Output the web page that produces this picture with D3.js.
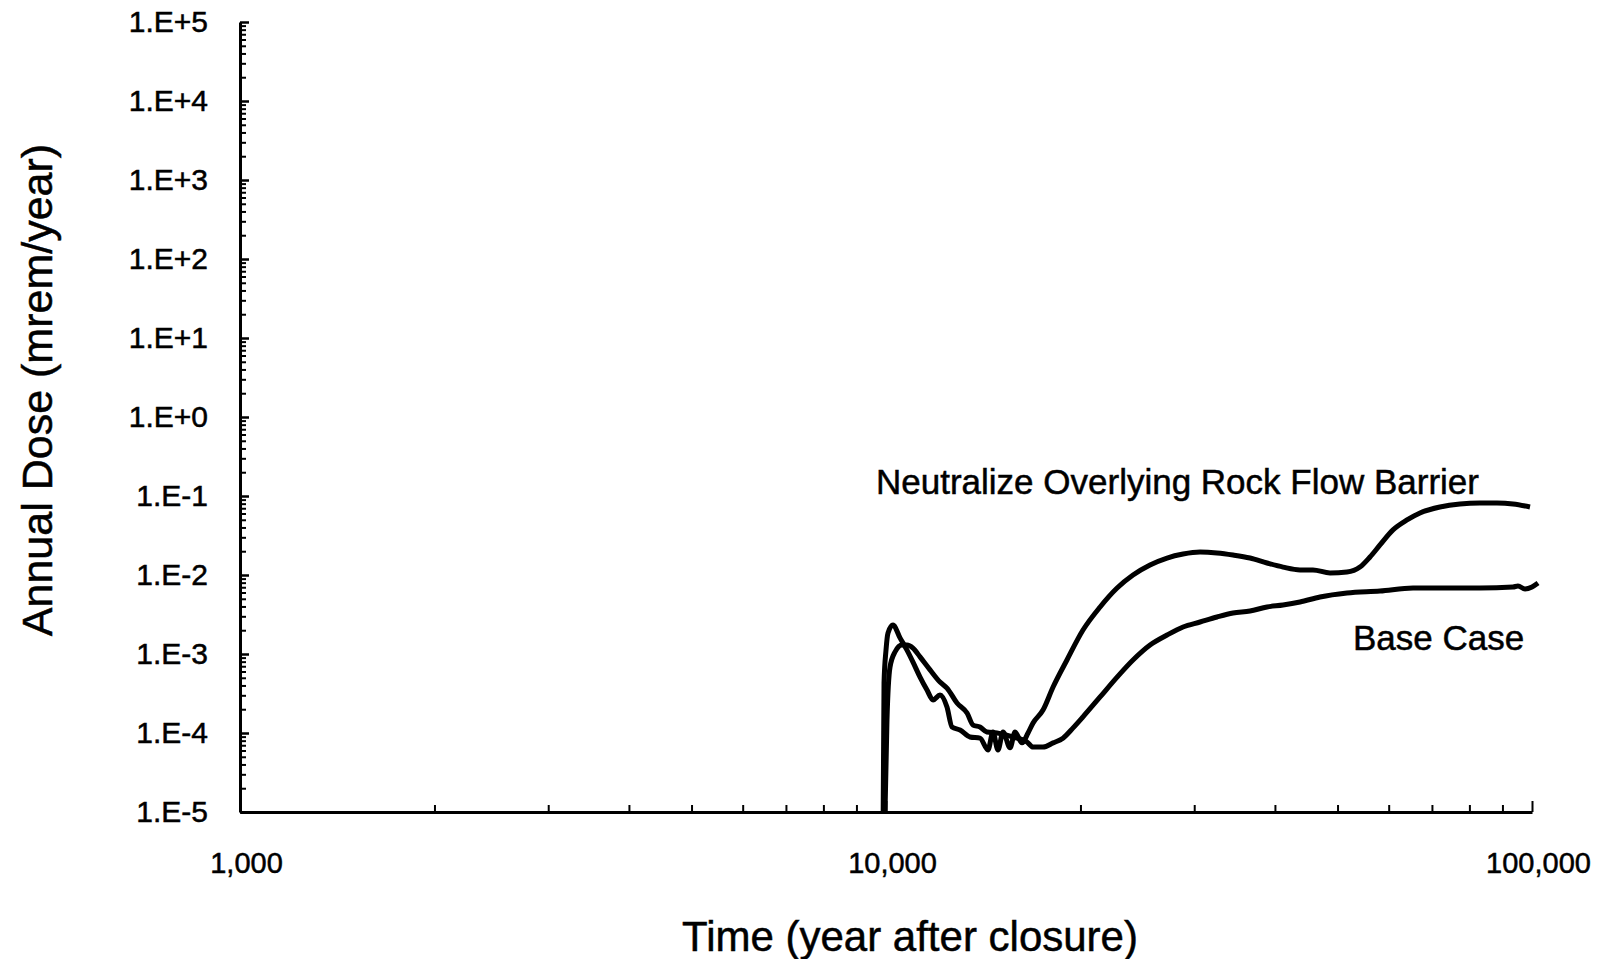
<!DOCTYPE html>
<html>
<head>
<meta charset="utf-8">
<script src="https://cdn.jsdelivr.net/npm/d3@7"></script>
<style>
    body { margin: 0; background: #fff; }
    svg { display: block; }
    text { font-family: "Liberation Sans", Arial, Helvetica, sans-serif; fill: #000; stroke: #000; stroke-width: 0.5px; }
    .axis path, .axis line { stroke: #000; }
</style>
</head>
<body>
<svg width="1598" height="959"></svg>
<script>
// waarden
var neutralizeTime = [9900, 9930, 10000, 10072, 10252, 10512, 10777, 11010, 11290, 11574, 11825, 12122, 12428, 12652, 13020, 13490, 13980, 14385, 14640, 14905, 15175, 15560, 15840, 16240, 16590, 16890, 17500, 18140, 19060, 20180, 21450, 22790, 24120, 25630, 27230, 28830, 30630, 32540, 34450, 36600, 38890, 41170, 43740, 45810, 48680, 51710, 54160, 56130, 58170, 60930, 64050, 67080, 72040, 77350, 83070, 88270, 93460, 99290];
var neutralizeDose = [1e-5, 4.3e-4, 1.12e-3, 1.85e-3, 2.33e-3, 1.6e-3, 1.12e-3, 7.9e-4, 5.1e-4, 3.5e-4, 2.62e-4, 3.03e-4, 2.13e-4, 1.19e-4, 1.09e-4, 8.9e-5, 8.6e-5, 6.1e-5, 1.03e-4, 6.1e-5, 1.03e-4, 6.5e-5, 1.03e-4, 7.5e-5, 1.0e-4, 1.34e-4, 1.95e-4, 3.82e-4, 8.4e-4, 2.01e-3, 3.94e-3, 6.84e-3, 1.0e-2, 1.34e-2, 1.64e-2, 1.84e-2, 1.95e-2, 1.9e-2, 1.79e-2, 1.64e-2, 1.42e-2, 1.26e-2, 1.16e-2, 1.16e-2, 1.06e-2, 1.09e-2, 1.26e-2, 1.69e-2, 2.4e-2, 3.72e-2, 4.97e-2, 6.1e-2, 7.26e-2, 7.93e-2, 8.15e-2, 8.15e-2, 7.93e-2, 7.26e-2];

var baseTime = [9965, 10035, 10143, 10325, 10587, 10777, 11010, 11290, 11700, 12122, 12428, 12880, 13350, 13640, 13980, 14330, 14850, 15730, 16530, 16890, 17500, 18140, 18790, 19480, 20180, 21450, 22790, 24120, 25630, 27230, 28830, 30630, 32540, 34450, 36600, 38890, 41170, 43740, 46970, 51710, 58170, 65440, 73850, 83070, 93460, 95130, 97540, 100000, 102170];
var baseDose = [1e-5, 1.46e-4, 6.8e-4, 1.06e-3, 1.3e-3, 1.3e-3, 1.19e-3, 9.2e-4, 6.3e-4, 4.42e-4, 3.7e-4, 2.4e-4, 1.79e-4, 1.26e-4, 1.19e-4, 1.03e-4, 1.0e-4, 8.9e-5, 7.7e-5, 6.65e-5, 6.65e-5, 7.5e-5, 8.6e-5, 1.16e-4, 1.6e-4, 2.86e-4, 5.1e-4, 8.4e-4, 1.3e-3, 1.74e-3, 2.2e-3, 2.54e-3, 2.94e-3, 3.3e-3, 3.5e-3, 3.94e-3, 4.17e-3, 4.55e-3, 5.27e-3, 5.92e-3, 6.27e-3, 6.84e-3, 6.84e-3, 6.84e-3, 7.05e-3, 7.26e-3, 6.65e-3, 7.05e-3, 7.9e-3];

var xTickValues = [1000, 10000, 100000];
var xTickLabels = ["1,000", "10,000", "100,000"];
var yTickValues = [1e-5, 1e-4, 1e-3, 1e-2, 1e-1, 1e0, 1e1, 1e2, 1e3, 1e4, 1e5];
var yTickLabels = ["1.E-5", "1.E-4", "1.E-3", "1.E-2", "1.E-1", "1.E+0", "1.E+1", "1.E+2", "1.E+3", "1.E+4", "1.E+5"];

var svg = d3.select("svg");

// schalen (logaritmisch op beide assen)
var x = d3.scaleLog().domain([1000, 100000]).range([240, 1532]);
var y = d3.scaleLog().domain([1e-5, 1e5]).range([812, 22]);

// kleine streepjes 2..9 binnen elke decade
function minorTicks(lo, hi) {
    var out = [];
    for (var p = lo; p < hi; p++) {
        for (var m = 2; m <= 9; m++) out.push(m * Math.pow(10, p));
    }
    return out;
}

// x-as
svg.append("g")
    .attr("class", "axis")
    .attr("transform", "translate(0," + y(1e-5) + ")")
    .call(d3.axisBottom(x).tickValues(minorTicks(3, 5)).tickSize(-7).tickSizeOuter(0).tickFormat(""))
    .call(function (g) { g.select(".domain").attr("stroke-width", 3); g.selectAll("line").attr("stroke-width", 2); });

var xMajor = svg.append("g")
    .attr("class", "axis")
    .attr("transform", "translate(0," + y(1e-5) + ")")
    .call(d3.axisBottom(x).tickValues(xTickValues).tickSize(-11).tickSizeOuter(0)
        .tickFormat(function (d, i) { return xTickLabels[i]; }));
xMajor.select(".domain").remove();
xMajor.selectAll("line").attr("stroke-width", 2);
xMajor.selectAll("text")
    .attr("y", 61)
    .attr("dy", 0)
    .attr("dx", 6)
    .style("font-size", "29px");

// y-as
svg.append("g")
    .attr("class", "axis")
    .attr("transform", "translate(" + x(1000) + ",0)")
    .call(d3.axisLeft(y).tickValues(minorTicks(-5, 5)).tickSize(-6).tickSizeOuter(0).tickFormat(""))
    .call(function (g) { g.select(".domain").attr("stroke-width", 3); g.selectAll("line").attr("stroke-width", 2); });

var yMajor = svg.append("g")
    .attr("class", "axis")
    .attr("transform", "translate(" + x(1000) + ",0)")
    .call(d3.axisLeft(y).tickValues(yTickValues).tickSize(-9).tickSizeOuter(0).tickPadding(32)
        .tickFormat(function (d, i) { return yTickLabels[i]; }));
yMajor.select(".domain").remove();
yMajor.selectAll("line").attr("stroke-width", 2.5);
yMajor.selectAll("text").style("font-size", "30px");

// lijnen
var line = d3.line()
    .curve(d3.curveMonotoneX)
    .x(function (d) { return x(d[0]); })
    .y(function (d) { return y(d[1]); });

svg.append("path")
    .datum(d3.zip(neutralizeTime, neutralizeDose))
    .attr("fill", "none")
    .attr("stroke", "#000")
    .attr("stroke-width", 5)
    .attr("stroke-linejoin", "round")
    .attr("d", line);

svg.append("path")
    .datum(d3.zip(baseTime, baseDose))
    .attr("fill", "none")
    .attr("stroke", "#000")
    .attr("stroke-width", 5)
    .attr("stroke-linejoin", "round")
    .attr("d", line);

// labels bij de lijnen
svg.append("text")
    .attr("x", 876)
    .attr("y", 494)
    .style("font-size", "35px")
    .text("Neutralize Overlying Rock Flow Barrier");

svg.append("text")
    .attr("x", 1353)
    .attr("y", 650)
    .style("font-size", "35px")
    .text("Base Case");

// astitels
svg.append("text")
    .attr("transform", "translate(52,390) rotate(-90)")
    .attr("text-anchor", "middle")
    .style("font-size", "43px")
    .text("Annual Dose (mrem/year)");

svg.append("text")
    .attr("x", 910)
    .attr("y", 951)
    .attr("text-anchor", "middle")
    .style("font-size", "42px")
    .text("Time (year after closure)");
</script>
</body>
</html>
